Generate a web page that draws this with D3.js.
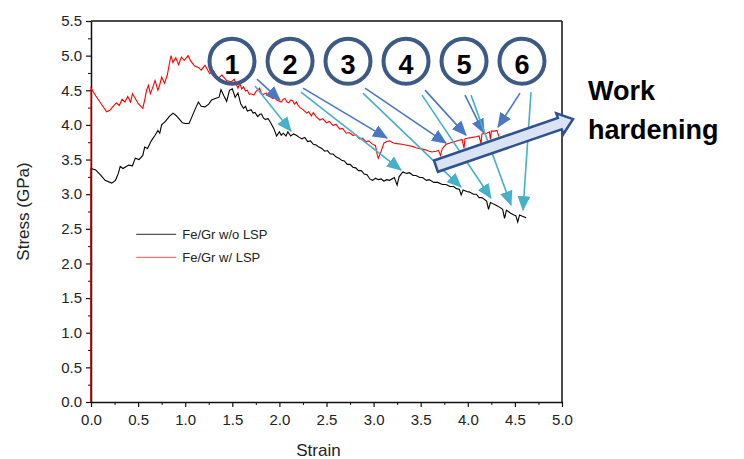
<!DOCTYPE html>
<html>
<head>
<meta charset="utf-8">
<script src="https://cdn.jsdelivr.net/npm/d3@7"></script>
<style>
  body { margin: 0; background: #fff; }
  text { font-family: "Liberation Sans", Arial, sans-serif; }
</style>
</head>
<body>
<div id="chart"></div>
<script>
// Fe/Gr w/o LSP (black): [strain, stress GPa]
const curveNoLsp = [
  [0, 0], [0, 3.37], [0.05, 3.35], [0.1, 3.28], [0.15, 3.2], [0.22, 3.16], [0.26, 3.2], [0.29, 3.3], [0.31, 3.4],
  [0.34, 3.37], [0.4, 3.42], [0.44, 3.41], [0.47, 3.52], [0.51, 3.5], [0.55, 3.56], [0.57, 3.68], [0.6, 3.66],
  [0.64, 3.77], [0.68, 3.85], [0.71, 3.92], [0.73, 3.88], [0.75, 4.0], [0.79, 4.05], [0.83, 4.12], [0.87, 4.17],
  [0.9, 4.14], [0.94, 4.08], [0.97, 4.03], [1.0, 4.02], [1.04, 4.02], [1.06, 4.08], [1.1, 4.21], [1.14, 4.33],
  [1.17, 4.27], [1.21, 4.26], [1.25, 4.3], [1.28, 4.36], [1.32, 4.38], [1.36, 4.4], [1.38, 4.51], [1.41, 4.42],
  [1.44, 4.34], [1.47, 4.5], [1.5, 4.52], [1.53, 4.4], [1.56, 4.46], [1.59, 4.3], [1.62, 4.24], [1.64, 4.27],
  [1.66, 4.2], [1.7, 4.22], [1.72, 4.17], [1.74, 4.18], [1.77, 4.12], [1.79, 4.15], [1.81, 4.16], [1.83, 4.1],
  [1.85, 4.08], [1.88, 4.09], [1.9, 4.05], [1.92, 4.0], [1.94, 3.95], [1.97, 3.84], [2.0, 3.9], [2.02, 3.85],
  [2.04, 3.88], [2.07, 3.84], [2.09, 3.9], [2.12, 3.84], [2.15, 3.87], [2.18, 3.85], [2.21, 3.82], [2.24, 3.8],
  [2.27, 3.82], [2.3, 3.76], [2.33, 3.77], [2.36, 3.72], [2.39, 3.71], [2.42, 3.68], [2.45, 3.66], [2.48, 3.62],
  [2.51, 3.63], [2.54, 3.58], [2.57, 3.58], [2.6, 3.54], [2.63, 3.52], [2.66, 3.49], [2.69, 3.48], [2.72, 3.43],
  [2.75, 3.43], [2.78, 3.39], [2.81, 3.38], [2.84, 3.34], [2.87, 3.34], [2.9, 3.29], [2.93, 3.28], [2.96, 3.22],
  [2.99, 3.2], [3.02, 3.23], [3.05, 3.21], [3.08, 3.22], [3.11, 3.19], [3.14, 3.21], [3.17, 3.2], [3.22, 3.24],
  [3.25, 3.13], [3.27, 3.25], [3.31, 3.32], [3.35, 3.3], [3.38, 3.31], [3.42, 3.27], [3.45, 3.27], [3.49, 3.24],
  [3.52, 3.24], [3.56, 3.2], [3.59, 3.21], [3.64, 3.17], [3.68, 3.17], [3.73, 3.14], [3.77, 3.14], [3.81, 3.11],
  [3.85, 3.11], [3.88, 3.08], [3.91, 3.07], [3.93, 2.99], [3.95, 3.06], [3.99, 3.04], [4.02, 3.03], [4.06, 3.0],
  [4.09, 3.0], [4.12, 2.95], [4.15, 2.95], [4.2, 2.9], [4.22, 2.78], [4.24, 2.88], [4.27, 2.86], [4.3, 2.84],
  [4.34, 2.81], [4.37, 2.78], [4.39, 2.65], [4.41, 2.77], [4.44, 2.74], [4.46, 2.72], [4.49, 2.7], [4.51, 2.69],
  [4.53, 2.6], [4.55, 2.7], [4.58, 2.68], [4.62, 2.66]
];

// Fe/Gr w/ LSP (red): [strain, stress GPa]
const curveLsp = [
  [0, 0], [0, 4.53], [0.05, 4.42], [0.1, 4.32], [0.166, 4.19], [0.2, 4.21], [0.23, 4.26], [0.27, 4.32], [0.3, 4.28],
  [0.33, 4.37], [0.36, 4.33], [0.39, 4.41], [0.42, 4.33], [0.44, 4.45], [0.47, 4.38], [0.5, 4.31], [0.55, 4.24],
  [0.57, 4.36], [0.59, 4.5], [0.61, 4.57], [0.63, 4.45], [0.65, 4.52], [0.68, 4.64], [0.71, 4.5], [0.73, 4.58],
  [0.75, 4.69], [0.78, 4.6], [0.81, 4.72], [0.84, 4.94], [0.85, 5.0], [0.87, 4.9], [0.9, 4.97], [0.93, 4.87],
  [0.96, 4.98], [0.99, 4.93], [1.03, 5.0], [1.06, 4.92], [1.1, 4.85], [1.14, 4.83], [1.17, 4.79], [1.21, 4.86],
  [1.26, 4.74], [1.3, 4.78], [1.35, 4.67], [1.39, 4.72], [1.44, 4.64], [1.49, 4.62], [1.52, 4.66], [1.56, 4.53],
  [1.58, 4.6], [1.6, 4.52], [1.62, 4.55], [1.64, 4.49], [1.66, 4.5], [1.68, 4.44], [1.7, 4.45], [1.73, 4.43],
  [1.75, 4.48], [1.79, 4.53], [1.81, 4.45], [1.83, 4.44], [1.86, 4.46], [1.88, 4.42], [1.91, 4.4], [1.93, 4.38],
  [1.95, 4.4], [1.97, 4.36], [2.0, 4.34], [2.02, 4.33], [2.04, 4.37], [2.06, 4.38], [2.08, 4.33], [2.1, 4.32],
  [2.12, 4.36], [2.14, 4.35], [2.16, 4.3], [2.18, 4.33], [2.2, 4.28], [2.22, 4.25], [2.25, 4.22], [2.29, 4.17],
  [2.31, 4.19], [2.34, 4.13], [2.36, 4.18], [2.39, 4.12], [2.43, 4.07], [2.46, 4.09], [2.5, 4.03], [2.53, 4.05],
  [2.57, 3.99], [2.6, 4.01], [2.64, 3.94], [2.67, 3.95], [2.71, 3.88], [2.74, 3.89], [2.78, 3.85], [2.81, 3.86],
  [2.85, 3.8], [2.88, 3.81], [2.92, 3.76], [2.95, 3.77], [2.98, 3.73], [3.02, 3.7], [3.04, 3.56], [3.05, 3.52],
  [3.08, 3.62], [3.11, 3.74], [3.14, 3.76], [3.17, 3.77], [3.21, 3.74], [3.25, 3.73], [3.3, 3.72], [3.34, 3.71],
  [3.38, 3.7], [3.41, 3.69], [3.45, 3.67], [3.48, 3.66], [3.52, 3.65], [3.55, 3.64], [3.59, 3.62], [3.62, 3.61],
  [3.66, 3.62], [3.69, 3.63], [3.71, 3.56], [3.73, 3.66], [3.77, 3.72], [3.81, 3.74], [3.84, 3.75], [3.89, 3.77],
  [3.94, 3.79], [3.96, 3.66], [3.97, 3.8], [4.01, 3.81], [4.05, 3.82], [4.09, 3.83], [4.12, 3.84], [4.14, 3.73],
  [4.15, 3.87], [4.2, 3.88], [4.23, 3.9], [4.24, 3.79], [4.25, 3.91], [4.28, 3.91], [4.31, 3.92], [4.33, 3.83]
];

const seriesNames = ["Fe/Gr w/o LSP", "Fe/Gr w/ LSP"];
const xTicks = [0, 0.5, 1, 1.5, 2, 2.5, 3, 3.5, 4, 4.5, 5];
const yTicks = [0, 0.5, 1, 1.5, 2, 2.5, 3, 3.5, 4, 4.5, 5, 5.5];

// annotation circles (strain position of each numbered circle)
const circleLabels = ["1", "2", "3", "4", "5", "6"];
const circleStrain = [1.497, 2.113, 2.728, 3.344, 3.96, 4.575];
const circleStress = 4.92;
// arrows from each circle: [x1, y1, x2, y2] in strain / stress
const blueArrows = [
  [1.762, 4.661, 2.006, 4.358], [2.251, 4.531, 3.142, 3.81], [2.909, 4.531, 3.769, 3.737],
  [3.546, 4.502, 3.981, 3.853], [3.97, 4.43, 4.172, 3.882], [4.554, 4.459, 4.321, 3.968]
];
const tealArrows = [
  [1.741, 4.56, 2.123, 3.911], [2.229, 4.473, 3.291, 3.348], [2.887, 4.459, 3.928, 3.102],
  [3.514, 4.43, 4.246, 2.944], [4.034, 4.43, 4.459, 2.843], [4.671, 4.473, 4.586, 2.771]
];
const hardeningArrow = [3.662, 3.405, 5.117, 4.084];

const W = 744, H = 459;
const margin = { top: 21, right: 182, bottom: 57, left: 91 };
const width = W - margin.left - margin.right;
const height = H - margin.top - margin.bottom;

const svg = d3.select("#chart").append("svg")
  .attr("width", W)
  .attr("height", H);

const defs = svg.append("defs");
const addMarker = (id, color) => {
  defs.append("marker")
    .attr("id", id)
    .attr("markerUnits", "userSpaceOnUse")
    .attr("viewBox", "0 0 14 12")
    .attr("refX", 13)
    .attr("refY", 6)
    .attr("markerWidth", 15)
    .attr("markerHeight", 13)
    .attr("orient", "auto")
    .append("path")
    .attr("d", "M0,0 L14,6 L0,12 Z")
    .attr("fill", color);
};
addMarker("head-blue", "#4a78c2");
addMarker("head-teal", "#47b0c9");

const g = svg.append("g")
  .attr("transform", `translate(${margin.left},${margin.top})`);

const x = d3.scaleLinear().domain([0, 5]).range([0, width]);
const y = d3.scaleLinear().domain([0, 5.5]).range([height, 0]);

// frame
g.append("line").attr("x1", 0).attr("x2", width).attr("y1", 0).attr("y2", 0)
  .attr("stroke", "#111").attr("stroke-width", 1.5);
g.append("line").attr("x1", width).attr("x2", width).attr("y1", 0).attr("y2", height)
  .attr("stroke", "#111").attr("stroke-width", 1.5);

const styleAxis = sel => {
  sel.select(".domain").attr("stroke", "#111").attr("stroke-width", 1.5);
  sel.selectAll(".tick line").attr("stroke", "#111").attr("stroke-width", 1.2);
  sel.selectAll(".tick text").attr("fill", "#222").style("font-size", "15px");
};

// minor ticks
g.append("g")
  .attr("transform", `translate(0,${height})`)
  .call(d3.axisBottom(x).tickValues(d3.range(0.25, 5, 0.5)).tickSize(3).tickFormat(""))
  .call(s => s.select(".domain").remove())
  .selectAll("line").attr("stroke", "#111");
g.append("g")
  .call(d3.axisLeft(y).tickValues(d3.range(0.25, 5.5, 0.5)).tickSize(3).tickFormat(""))
  .call(s => s.select(".domain").remove())
  .selectAll("line").attr("stroke", "#111");

g.append("g")
  .attr("transform", `translate(0,${height})`)
  .call(d3.axisBottom(x).tickValues(xTicks).tickSize(5).tickSizeOuter(0).tickPadding(7).tickFormat(d3.format(".1f")))
  .call(styleAxis);

g.append("g")
  .call(d3.axisLeft(y).tickValues(yTicks).tickSize(5).tickSizeOuter(0).tickPadding(4).tickFormat(d3.format(".1f")))
  .call(styleAxis);

// axis titles
svg.append("text")
  .attr("x", margin.left + x(2.5) - 8)
  .attr("y", 456)
  .attr("text-anchor", "middle")
  .style("font-size", "17px")
  .attr("fill", "#222")
  .text("Strain");

svg.append("text")
  .attr("transform", `translate(29,${margin.top + y(2.75)}) rotate(-90)`)
  .attr("text-anchor", "middle")
  .style("font-size", "17px")
  .attr("fill", "#222")
  .text("Stress (GPa)");

// curves
const line = d3.line().x(d => x(d[0])).y(d => y(d[1]));

g.append("path").datum(curveNoLsp)
  .attr("d", line).attr("fill", "none").attr("stroke", "#000").attr("stroke-width", 1.1);
g.append("path").datum(curveLsp)
  .attr("d", line).attr("fill", "none").attr("stroke", "#ff0000").attr("stroke-width", 1.1);

// legend
const legend = g.append("g").attr("transform", `translate(${x(0.48)},${y(2.42)})`);
[["#555", seriesNames[0]], ["#ff7070", seriesNames[1]]].forEach(([c, name], i) => {
  legend.append("line").attr("x1", 0).attr("x2", 40).attr("y1", i * 23).attr("y2", i * 23)
    .attr("stroke", c).attr("stroke-width", 1.2);
  legend.append("text").attr("x", 46).attr("y", i * 23 + 5)
    .style("font-size", "13px").attr("fill", "#222").text(name);
});

// annotation arrows
const drawArrows = (list, color, marker) => {
  g.selectAll(null).data(list).enter().append("line")
    .attr("x1", d => x(d[0])).attr("y1", d => y(d[1]))
    .attr("x2", d => x(d[2])).attr("y2", d => y(d[3]))
    .attr("stroke", color).attr("stroke-width", 1.6)
    .attr("marker-end", `url(#${marker})`);
};
drawArrows(blueArrows, "#4a78c2", "head-blue");
drawArrows(tealArrows, "#47b0c9", "head-teal");

// numbered circles
const circles = g.selectAll(".num").data(circleLabels).enter().append("g")
  .attr("class", "num")
  .attr("transform", (d, i) => `translate(${x(circleStrain[i])},${y(circleStress)})`);
circles.append("circle").attr("r", 22.5)
  .attr("fill", "none").attr("stroke", "#3d5a84").attr("stroke-width", 4);
circles.append("text").attr("y", 13).attr("text-anchor", "middle")
  .style("font-size", "27px").style("font-weight", "bold").attr("fill", "#000").text(d => d);

// work hardening block arrow
{
  const [s1, t1, s2, t2] = hardeningArrow;
  const px1 = x(s1), py1 = y(t1), px2 = x(s2), py2 = y(t2);
  const len = Math.hypot(px2 - px1, py2 - py1);
  const ang = Math.atan2(py2 - py1, px2 - px1) * 180 / Math.PI;
  const hw = 6, hh = 11, hl = 14;
  const pts = [[0, -hw], [len - hl, -hw], [len - hl, -hh], [len, 0], [len - hl, hh], [len - hl, hw], [0, hw]];
  g.append("polygon")
    .attr("transform", `translate(${px1},${py1}) rotate(${ang})`)
    .attr("points", pts.map(p => p.join(",")).join(" "))
    .attr("fill", "#dae3f3")
    .attr("stroke", "#2f528f")
    .attr("stroke-width", 2.5)
    .attr("stroke-linejoin", "miter");
}

svg.append("text").attr("x", 588).attr("y", 100)
  .style("font-size", "27px").style("font-weight", "bold").attr("fill", "#000").text("Work");
svg.append("text").attr("x", 588).attr("y", 139)
  .style("font-size", "27px").style("font-weight", "bold").attr("fill", "#000").text("hardening");
</script>
</body>
</html>
